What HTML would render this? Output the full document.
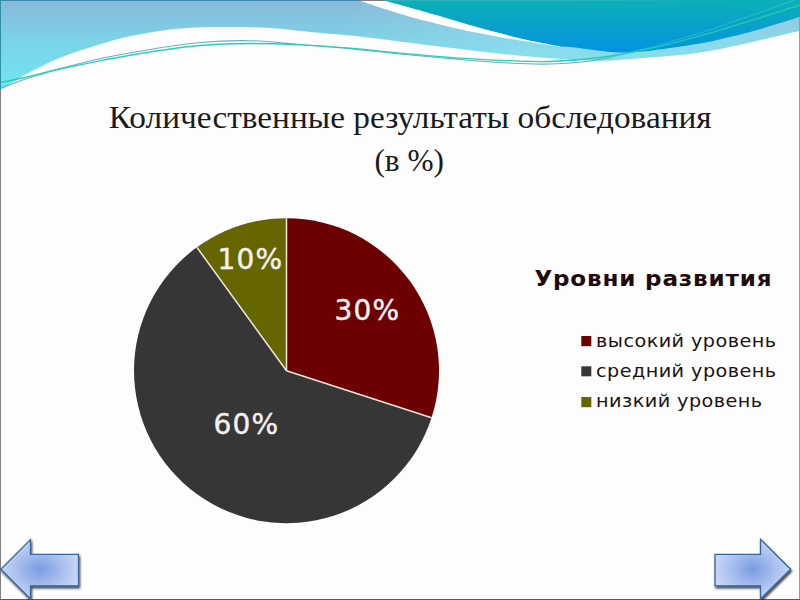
<!DOCTYPE html>
<html lang="ru">
<head>
<meta charset="utf-8">
<title>Количественные результаты обследования</title>
<style>
html,body{margin:0;padding:0;}
body{width:800px;height:600px;overflow:hidden;background:#fdfdfd;position:relative;font-family:"DejaVu Sans","Liberation Sans",sans-serif;}
svg{position:absolute;left:0;top:0;}
</style>
</head>
<body>
<svg width="800" height="600" viewBox="0 0 800 600">
<defs>
<linearGradient id="gl" x1="0" y1="0" x2="0" y2="90" gradientUnits="userSpaceOnUse">
<stop offset="0" stop-color="#89b9d8"/><stop offset="0.45" stop-color="#7cd2e8"/><stop offset="1" stop-color="#70e7f2"/>
</linearGradient>
<linearGradient id="gd" x1="0" y1="0" x2="0" y2="55" gradientUnits="userSpaceOnUse">
<stop offset="0" stop-color="#0bb0b6"/><stop offset="0.5" stop-color="#0aa0cc"/><stop offset="1" stop-color="#0092e3"/>
</linearGradient>
<linearGradient id="gw" x1="340" y1="0" x2="520" y2="0" gradientUnits="userSpaceOnUse"><stop offset="0" stop-color="#fff" stop-opacity="0"/><stop offset="1" stop-color="#fff" stop-opacity="0.12"/></linearGradient>
<linearGradient id="gl1" x1="0" y1="0" x2="800" y2="0" gradientUnits="userSpaceOnUse"><stop offset="0" stop-color="#55a6cc" stop-opacity="0.9"/><stop offset="0.76" stop-color="#55a6cc" stop-opacity="0.9"/><stop offset="0.8" stop-color="#7fe0f0" stop-opacity="0.28"/><stop offset="1" stop-color="#7fe0f0" stop-opacity="0.28"/></linearGradient>
<radialGradient id="ga" cx="0.5" cy="0.5" r="0.58">
<stop offset="0" stop-color="#7a9ce2"/><stop offset="0.5" stop-color="#a8bfee"/><stop offset="1" stop-color="#d0ddf8"/>
</radialGradient>
<filter id="sh" x="-20%" y="-20%" width="150%" height="150%">
<feGaussianBlur in="SourceAlpha" stdDeviation="1.1"/><feOffset dx="1" dy="1.8"/><feComponentTransfer><feFuncA type="linear" slope="0.75"/></feComponentTransfer><feMerge><feMergeNode/><feMergeNode in="SourceGraphic"/></feMerge>
</filter>
</defs>
<path d="M0.00 0.00L0.00 89.80C0.83 89.40 3.00 88.53 5.00 87.40C7.00 86.27 9.08 84.87 12.00 83.00C14.92 81.13 18.17 78.70 22.50 76.20C26.83 73.70 32.75 70.67 38.00 68.00C43.25 65.33 47.83 62.82 54.00 60.20C60.17 57.58 67.33 54.97 75.00 52.30C82.67 49.63 91.67 46.72 100.00 44.20C108.33 41.68 116.67 39.15 125.00 37.20C133.33 35.25 141.67 33.87 150.00 32.50C158.33 31.13 166.67 29.87 175.00 29.00C183.33 28.13 191.67 27.63 200.00 27.30C208.33 26.97 216.67 27.02 225.00 27.00C233.33 26.98 240.83 26.90 250.00 27.20C259.17 27.50 270.00 28.00 280.00 28.80C290.00 29.60 298.33 30.87 310.00 32.00C321.67 33.13 335.00 34.02 350.00 35.60C365.00 37.18 383.33 39.47 400.00 41.50C416.67 43.53 433.33 45.77 450.00 47.80C466.67 49.83 483.33 51.95 500.00 53.70C516.67 55.45 533.33 57.12 550.00 58.30C566.67 59.48 583.33 60.93 600.00 60.80C616.67 60.67 633.33 58.88 650.00 57.50C666.67 56.12 683.33 55.00 700.00 52.50C716.67 50.00 733.33 46.12 750.00 42.50C766.67 38.88 791.67 32.75 800.00 30.80L800.00 0.00Z" fill="url(#gl)"/>
<path d="M0.00 0.00L0.00 89.80C0.83 89.40 3.00 88.53 5.00 87.40C7.00 86.27 9.08 84.87 12.00 83.00C14.92 81.13 18.17 78.70 22.50 76.20C26.83 73.70 32.75 70.67 38.00 68.00C43.25 65.33 47.83 62.82 54.00 60.20C60.17 57.58 67.33 54.97 75.00 52.30C82.67 49.63 91.67 46.72 100.00 44.20C108.33 41.68 116.67 39.15 125.00 37.20C133.33 35.25 141.67 33.87 150.00 32.50C158.33 31.13 166.67 29.87 175.00 29.00C183.33 28.13 191.67 27.63 200.00 27.30C208.33 26.97 216.67 27.02 225.00 27.00C233.33 26.98 240.83 26.90 250.00 27.20C259.17 27.50 270.00 28.00 280.00 28.80C290.00 29.60 298.33 30.87 310.00 32.00C321.67 33.13 335.00 34.02 350.00 35.60C365.00 37.18 383.33 39.47 400.00 41.50C416.67 43.53 433.33 45.77 450.00 47.80C466.67 49.83 483.33 51.95 500.00 53.70C516.67 55.45 533.33 57.12 550.00 58.30C566.67 59.48 583.33 60.93 600.00 60.80C616.67 60.67 633.33 58.88 650.00 57.50C666.67 56.12 683.33 55.00 700.00 52.50C716.67 50.00 733.33 46.12 750.00 42.50C766.67 38.88 791.67 32.75 800.00 30.80L800.00 0.00Z" fill="url(#gw)"/>
<path d="M383.00 0.18C385.83 0.93 393.83 2.99 400.00 4.68C406.17 6.36 413.33 8.38 420.00 10.28C426.67 12.18 433.33 14.14 440.00 16.08C446.67 18.02 453.33 19.99 460.00 21.92C466.67 23.85 473.33 25.79 480.00 27.65C486.67 29.51 493.33 31.36 500.00 33.11C506.67 34.86 513.33 36.56 520.00 38.14C526.67 39.72 533.17 41.21 540.00 42.60C546.83 43.99 557.50 45.85 561.00 46.50L561.00 46.50C557.50 46.02 546.83 44.62 540.00 43.63C533.17 42.63 526.67 41.63 520.00 40.55C513.33 39.47 506.67 38.34 500.00 37.14C493.33 35.94 486.67 34.69 480.00 33.36C473.33 32.03 466.67 30.65 460.00 29.18C453.33 27.71 446.67 26.17 440.00 24.54C433.33 22.91 426.67 21.21 420.00 19.42C413.33 17.62 406.67 15.74 400.00 13.76C393.33 11.79 387.00 9.84 380.00 7.54C373.00 5.25 361.67 1.26 358.00 -0.00Z" fill="#ffffff"/>
<path d="M383.00 0.18C385.83 0.93 393.83 2.99 400.00 4.68C406.17 6.36 413.33 8.38 420.00 10.28C426.67 12.18 433.33 14.14 440.00 16.08C446.67 18.02 453.33 19.99 460.00 21.92C466.67 23.85 473.33 25.79 480.00 27.65C486.67 29.51 493.33 31.36 500.00 33.11C506.67 34.86 513.33 36.56 520.00 38.14C526.67 39.72 533.17 41.21 540.00 42.60C546.83 43.99 557.50 45.85 561.00 46.50C563.33 46.67 568.50 46.78 575.00 47.50C581.50 48.22 592.50 49.97 600.00 50.80C607.50 51.63 611.67 52.50 620.00 52.50C628.33 52.50 636.67 52.28 650.00 50.80C663.33 49.32 687.50 45.73 700.00 43.60C712.50 41.47 716.67 39.95 725.00 38.00C733.33 36.05 741.67 34.13 750.00 31.90C758.33 29.67 766.67 27.08 775.00 24.60C783.33 22.12 795.83 18.27 800.00 17.00L800.00 0.00Z" fill="url(#gd)"/>
<path d="M0.00 88.50C3.75 87.07 15.00 82.47 22.50 79.90C30.00 77.33 38.75 74.98 45.00 73.10C51.25 71.22 50.83 71.00 60.00 68.60C69.17 66.20 85.00 61.88 100.00 58.70C115.00 55.52 133.33 52.20 150.00 49.50C166.67 46.80 183.33 43.97 200.00 42.50C216.67 41.03 233.33 40.37 250.00 40.70C266.67 41.03 283.33 43.18 300.00 44.50C316.67 45.82 333.33 47.02 350.00 48.60C366.67 50.18 383.33 52.33 400.00 54.00C416.67 55.67 433.33 57.18 450.00 58.60C466.67 60.02 483.33 61.60 500.00 62.50C516.67 63.40 533.33 64.50 550.00 64.00C566.67 63.50 583.33 62.30 600.00 59.50C616.67 56.70 633.33 51.62 650.00 47.20C666.67 42.78 683.33 38.20 700.00 33.00C716.67 27.80 734.17 21.50 750.00 16.00C765.83 10.50 787.50 2.67 795.00 0.00" fill="none" stroke="url(#gl1)" stroke-width="1.1"/>
<path d="M0.00 82.50C3.75 81.75 12.50 80.25 22.50 78.00C32.50 75.75 47.08 71.87 60.00 69.00C72.92 66.13 85.00 63.63 100.00 60.80C115.00 57.97 133.33 54.55 150.00 52.00C166.67 49.45 183.33 46.92 200.00 45.50C216.67 44.08 233.33 43.62 250.00 43.50C266.67 43.38 283.33 44.02 300.00 44.80C316.67 45.58 333.33 46.80 350.00 48.20C366.67 49.60 383.33 51.67 400.00 53.20C416.67 54.73 433.33 56.22 450.00 57.40C466.67 58.58 483.33 59.62 500.00 60.30C516.67 60.98 533.33 61.97 550.00 61.50C566.67 61.03 583.33 59.67 600.00 57.50C616.67 55.33 633.33 52.12 650.00 48.50C666.67 44.88 683.33 40.42 700.00 35.80C716.67 31.18 733.33 25.93 750.00 20.80C766.67 15.67 791.67 7.63 800.00 5.00" fill="none" stroke="#22cdaa" stroke-width="1.35" opacity="0.95"/>
<rect x="0" y="0" width="360" height="1" fill="#3f86a8"/><rect x="360" y="0" width="26" height="1" fill="#7c7c7c"/>
<rect x="0" y="0" width="1" height="90" fill="#2f90aa"/>
<rect x="0" y="90" width="1" height="510" fill="#808080"/>
<rect x="799" y="18" width="1" height="582" fill="#9a9a9a"/>
<rect x="0" y="599" width="800" height="1" fill="#5c5c5c"/>
<path d="M286.50 370.70 L286.50 218.20 A152.50 152.50 0 0 1 431.54 417.83 Z" fill="#6d0000"/>
<path d="M286.50 370.70 L431.54 417.83 A152.50 152.50 0 1 1 196.86 247.32 Z" fill="#363636"/>
<path d="M286.50 370.70 L196.86 247.32 A152.50 152.50 0 0 1 286.50 218.20 Z" fill="#666600"/>
<g stroke="#f6f0ea" stroke-width="1.5" opacity="0.95">
<line x1="286.5" y1="370.7" x2="286.50" y2="218.20"/>
<line x1="286.5" y1="370.7" x2="431.54" y2="417.83"/>
<line x1="286.5" y1="370.7" x2="196.86" y2="247.32"/>
</g>
<g filter="url(#sh)">
<path d="M0.8 569.3 L30.5 539.6 L30.5 554.3 L78.5 554.3 L78.5 585.8 L30.5 585.8 L30.5 599 Z" fill="url(#ga)" stroke="#38649c" stroke-width="1.3" stroke-linejoin="miter"/>
<path d="M790.6 569.3 L760.5 539.4 L760.5 554.3 L715 554.3 L715 585.8 L760.5 585.8 L760.5 599 Z" fill="url(#ga)" stroke="#38649c" stroke-width="1.3" stroke-linejoin="miter"/>
</g>
<g font-family="'Liberation Serif',serif" font-size="31.3" fill="#1a1a1a" text-anchor="middle">
<text transform="translate(410.2 127.7) scale(1.065 1)">Количественные результаты обследования</text>
<text transform="translate(409.2 171) scale(1.0 1)">(в %)</text>
</g>
<g font-family="'DejaVu Sans',sans-serif" font-size="28" fill="#f3f0f0" stroke="#f3f0f0" stroke-width="0.45" letter-spacing="1.1">
<text x="217.6" y="268.9">10%</text>
<text x="334.6" y="319.7">30%</text>
<text x="213.6" y="434">60%</text>
</g>
<text transform="translate(534.4 285.6) scale(1.06 1)" font-family="'DejaVu Sans',sans-serif" font-weight="bold" font-size="21.8" letter-spacing="0.77" fill="#200c0c">Уровни развития</text>
<g font-family="'DejaVu Sans',sans-serif" font-size="18.3" letter-spacing="0.42" fill="#201212">
<text transform="translate(596.1 346.7) scale(1.05 1)">высокий уровень</text>
<text transform="translate(596.1 376.8) scale(1.05 1)">средний уровень</text>
<text transform="translate(596.1 407.2) scale(1.05 1)">низкий уровень</text>
</g>
<rect x="581.3" y="336" width="10" height="10.2" fill="#6d0000"/>
<rect x="581.3" y="366.3" width="10" height="10" fill="#363636"/>
<rect x="581.3" y="397" width="10" height="10.2" fill="#666600"/>
</svg>
</body>
</html>
